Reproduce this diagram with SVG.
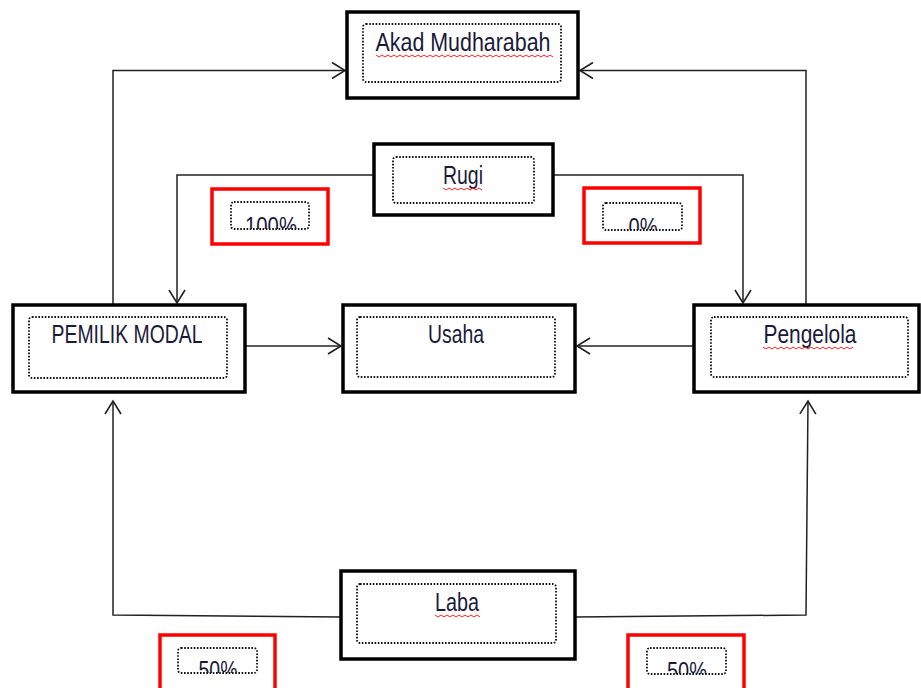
<svg xmlns="http://www.w3.org/2000/svg" width="921" height="688" viewBox="0 0 921 688">
<style>
.outer{fill:#fff;stroke:#000;stroke-width:3.5}
.red{fill:#fff;stroke:#ff0000;stroke-width:3.5}
.inner{fill:none;stroke:#111;stroke-width:1.8;stroke-dasharray:1.6 1.6}
.lbl{font-family:"Liberation Sans",Arial,sans-serif;font-size:25px;fill:#1a1a3a;text-anchor:middle}
.con{fill:none;stroke:#222;stroke-width:1.5}
.sq{fill:none;stroke:#ff2020;stroke-width:1}
</style>
<defs>
<marker id="arr" markerUnits="userSpaceOnUse" markerWidth="16" markerHeight="20" viewBox="0 0 16 20" refX="14" refY="10" orient="auto">
<path d="M1,2 L14,10 L1,18" fill="none" stroke="#222" stroke-width="1.6"/>
</marker>
<clipPath id="c100"><rect x="231" y="190" width="78" height="39"/></clipPath>
<clipPath id="c0"><rect x="603" y="190" width="79" height="40"/></clipPath>
<clipPath id="c50a"><rect x="178" y="636" width="79" height="37"/></clipPath>
<clipPath id="c50b"><rect x="647" y="636" width="79" height="38"/></clipPath>
</defs>
<rect width="921" height="688" fill="#fff"/>
<g id="connectors">
<polyline class="con" points="113,305 113,70.5 345,70.5" marker-end="url(#arr)"/>
<polyline class="con" points="806,305 806,70.5 580,70.5" marker-end="url(#arr)"/>
<polyline class="con" points="374,175 177,175 177,303" marker-end="url(#arr)"/>
<polyline class="con" points="553,175 743,175 743,303" marker-end="url(#arr)"/>
<line class="con" x1="245" y1="346" x2="341" y2="346" marker-end="url(#arr)"/>
<line class="con" x1="694" y1="346" x2="577" y2="346" marker-end="url(#arr)"/>
<polyline class="con" points="341,617 113,615 113,401" marker-end="url(#arr)"/>
<polyline class="con" points="575,617 806,615 808,401" marker-end="url(#arr)"/>
</g>
<g id="akad">
<rect class="outer" x="347" y="12" width="231" height="86"/>
<rect class="inner" x="363" y="24" width="198" height="58" rx="3"/>
<text class="lbl" x="463" y="51" textLength="175" lengthAdjust="spacingAndGlyphs">Akad Mudharabah</text>
<path class="sq" d="M376,55 l3,2 l3,-2 l3,2 l3,-2 l3,2 l3,-2 l3,2 l3,-2 l3,2 l3,-2 l3,2 l3,-2 l3,2 l3,-2 l3,2 l3,-2 l3,2 l3,-2 l3,2 l3,-2 l3,2 l3,-2 l3,2 l3,-2 l3,2 l3,-2 l3,2 l3,-2 l3,2 l3,-2 l3,2 l3,-2 l3,2 l3,-2 l3,2 l3,-2 l3,2 l3,-2 l3,2 l3,-2 l3,2 l3,-2 l3,2 l3,-2 l3,2 l3,-2 l3,2 l3,-2 l3,2 l3,-2 l3,2 l3,-2 l3,2 l3,-2 l3,2 l3,-2 l3,2 l3,-2 l3,2"/>
</g>
<g id="rugi">
<rect class="outer" x="374" y="144" width="179" height="71"/>
<rect class="inner" x="393" y="157" width="141" height="46" rx="3"/>
<text class="lbl" x="463" y="184" textLength="40" lengthAdjust="spacingAndGlyphs">Rugi</text>
<path class="sq" d="M443,188 l3,2 l3,-2 l3,2 l3,-2 l3,2 l3,-2 l3,2 l3,-2 l3,2 l3,-2 l3,2 l3,-2 l3,2"/>
</g>
<g id="p100">
<rect class="red" x="212" y="189" width="116" height="55"/>
<rect class="inner" x="231" y="202" width="78" height="27" rx="3"/>
<text class="lbl" x="271" y="235" textLength="52" lengthAdjust="spacingAndGlyphs" clip-path="url(#c100)">100%</text>
</g>
<g id="p0">
<rect class="red" x="584" y="188" width="116" height="55"/>
<rect class="inner" x="603" y="203" width="79" height="27" rx="3"/>
<text class="lbl" x="643" y="236" textLength="29" lengthAdjust="spacingAndGlyphs" clip-path="url(#c0)">0%</text>
</g>
<g id="pemilik">
<rect class="outer" x="13" y="305" width="232" height="87"/>
<rect class="inner" x="29" y="317" width="198" height="61" rx="3"/>
<text class="lbl" x="127" y="343" textLength="151" lengthAdjust="spacingAndGlyphs">PEMILIK MODAL</text>
</g>
<g id="usaha">
<rect class="outer" x="343" y="305" width="232" height="87"/>
<rect class="inner" x="357" y="317" width="198" height="60" rx="3"/>
<text class="lbl" x="456" y="343" textLength="56" lengthAdjust="spacingAndGlyphs">Usaha</text>
</g>
<g id="pengelola">
<rect class="outer" x="694" y="305" width="225" height="87"/>
<rect class="inner" x="711" y="317" width="197" height="60" rx="3"/>
<text class="lbl" x="810" y="343" textLength="93" lengthAdjust="spacingAndGlyphs">Pengelola</text>
<path class="sq" d="M763,347 l3,2 l3,-2 l3,2 l3,-2 l3,2 l3,-2 l3,2 l3,-2 l3,2 l3,-2 l3,2 l3,-2 l3,2 l3,-2 l3,2 l3,-2 l3,2 l3,-2 l3,2 l3,-2 l3,2 l3,-2 l3,2 l3,-2 l3,2 l3,-2 l3,2 l3,-2 l3,2 l3,-2"/>
</g>
<g id="laba">
<rect class="outer" x="341" y="571" width="234" height="88"/>
<rect class="inner" x="357" y="584" width="199" height="59" rx="3"/>
<text class="lbl" x="457" y="611" textLength="44" lengthAdjust="spacingAndGlyphs">Laba</text>
<path class="sq" d="M435,615 l3,2 l3,-2 l3,2 l3,-2 l3,2 l3,-2 l3,2 l3,-2 l3,2 l3,-2 l3,2 l3,-2 l3,2 l3,-2 l3,2"/>
</g>
<g id="p50a">
<rect class="red" x="160" y="635" width="115" height="60"/>
<rect class="inner" x="178" y="648" width="79" height="25" rx="3"/>
<text class="lbl" x="218" y="679" textLength="39" lengthAdjust="spacingAndGlyphs" clip-path="url(#c50a)">50%</text>
</g>
<g id="p50b">
<rect class="red" x="628" y="635" width="116" height="60"/>
<rect class="inner" x="647" y="648" width="79" height="26" rx="3"/>
<text class="lbl" x="687" y="680" textLength="40" lengthAdjust="spacingAndGlyphs" clip-path="url(#c50b)">50%</text>
</g>
</svg>
